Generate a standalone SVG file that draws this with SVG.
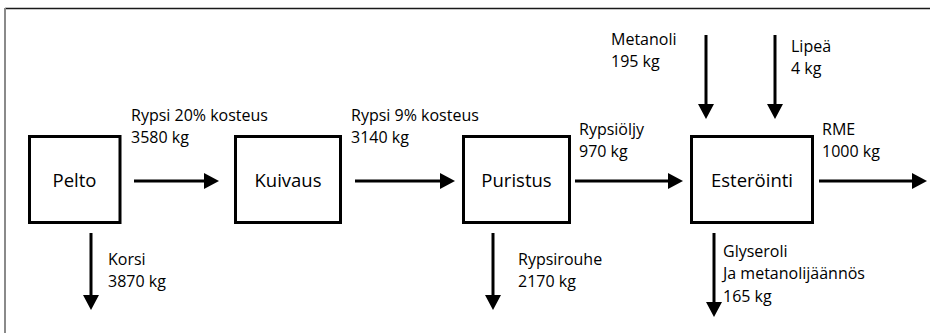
<svg xmlns="http://www.w3.org/2000/svg" width="930" height="333" viewBox="0 0 930 333">
  <style>
    .box { fill: #ffffff; stroke: #000000; stroke-width: 3; }
    .flow { fill: none; stroke: #000000; stroke-width: 3; marker-end: url(#head); }
    text { font-family: "Open Sans", "Liberation Sans", sans-serif; font-size: 16px; fill: #000000; }
    .mid { text-anchor: middle; font-size: 18.5px; }
  </style>
  <defs>
    <marker id="head" markerUnits="userSpaceOnUse" markerWidth="16" markerHeight="17" refX="0" refY="8" orient="auto" viewBox="0 0 16 16">
      <path d="M0,0 L15,8 L0,16 Z" fill="#000000"/>
    </marker>
  </defs>

  <!-- page frame -->
  <line x1="5" y1="8.5" x2="930" y2="8.5" stroke="#1a1a1a" stroke-width="1.5"/>
  <line x1="5" y1="8" x2="5" y2="333" stroke="#8a8a8a" stroke-width="2"/>

  <!-- process steps -->
  <g id="pelto">
    <rect class="box" x="29.5" y="136.5" width="90.5" height="86"/>
    <text class="mid" x="74.5" y="187">Pelto</text>
  </g>
  <g id="kuivaus">
    <rect class="box" x="235.5" y="136.5" width="105" height="86"/>
    <text class="mid" x="288" y="187">Kuivaus</text>
  </g>
  <g id="puristus">
    <rect class="box" x="463.5" y="136.5" width="106" height="86"/>
    <text class="mid" x="516.5" y="187">Puristus</text>
  </g>
  <g id="esterointi">
    <rect class="box" x="691.5" y="136.5" width="121" height="86"/>
    <text class="mid" x="752" y="187">Esteröinti</text>
  </g>

  <!-- mass flows -->
  <g id="connectors">
    <path class="flow" d="M134,181 H204"/>
    <path class="flow" d="M355,181 H440"/>
    <path class="flow" d="M575,181 H668"/>
    <path class="flow" d="M819,181 H912"/>
    <path class="flow" d="M91,233 V295"/>
    <path class="flow" d="M493,233 V295"/>
    <path class="flow" d="M714,233 V302"/>
    <path class="flow" d="M706,35 V104"/>
    <path class="flow" d="M775,35 V104"/>
  </g>

  <!-- flow labels -->
  <g id="labels">
    <text x="131" y="121">Rypsi 20% kosteus</text>
    <text x="131" y="142.5">3580 kg</text>
    <text x="351" y="121">Rypsi 9% kosteus</text>
    <text x="351" y="142.5">3140 kg</text>
    <text x="579" y="135">Rypsiöljy</text>
    <text x="579" y="157">970 kg</text>
    <text x="822" y="135">RME</text>
    <text x="822" y="157">1000 kg</text>
    <text x="108" y="265">Korsi</text>
    <text x="108" y="287">3870 kg</text>
    <text x="518" y="265">Rypsirouhe</text>
    <text x="518" y="287">2170 kg</text>
    <text x="723" y="257">Glyseroli</text>
    <text x="723" y="279">Ja metanolijäännös</text>
    <text x="723" y="302">165 kg</text>
    <text x="611" y="45">Metanoli</text>
    <text x="611" y="67">195 kg</text>
    <text x="791" y="52">Lipeä</text>
    <text x="791" y="74">4 kg</text>
  </g>
</svg>
